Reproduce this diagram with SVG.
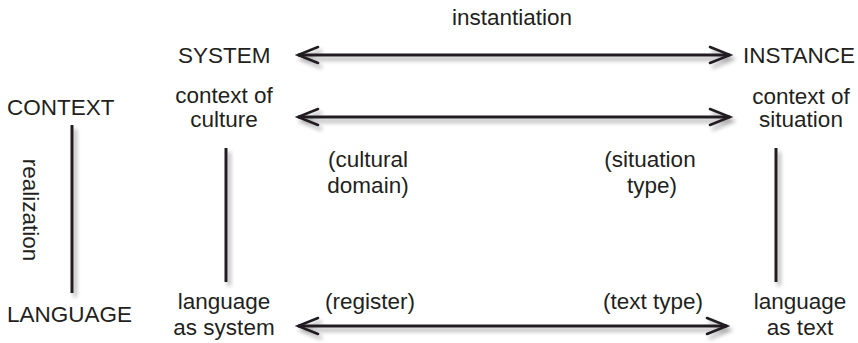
<svg xmlns="http://www.w3.org/2000/svg" width="858" height="343" viewBox="0 0 858 343">
<style>
text{font-family:"Liberation Sans",Arial,sans-serif;font-size:22.5px;fill:#231f20}
.m{text-anchor:middle}
.ln{stroke:#231f20;stroke-width:3;fill:none;filter:url(#sh)}
.ah{stroke:#231f20;stroke-width:2.5;fill:none;stroke-linecap:round;stroke-linejoin:miter}
</style>
<defs>
<filter id="sh" filterUnits="userSpaceOnUse" x="0" y="0" width="858" height="343">
<feGaussianBlur in="SourceAlpha" stdDeviation="2"/>
<feOffset dx="3" dy="4" result="b"/>
<feComponentTransfer><feFuncA type="linear" slope="0.35"/></feComponentTransfer>
<feMerge><feMergeNode/><feMergeNode in="SourceGraphic"/></feMerge>
</filter>
</defs>
<g id="connectors">
<g class="ln"><line x1="298" y1="55" x2="730" y2="55"/><path class="ah" d="M318 47 L298 55 L318 63 M710 47 L730 55 L710 63"/></g>
<g class="ln"><line x1="298" y1="117" x2="730" y2="117"/><path class="ah" d="M318 109 L298 117 L318 125 M710 109 L730 117 L710 125"/></g>
<g class="ln"><line x1="298" y1="326" x2="727" y2="326"/><path class="ah" d="M318 318 L298 326 L318 334 M707 318 L727 326 L707 334"/></g>
<line class="ln" x1="72" y1="125" x2="72" y2="293"/>
<line class="ln" x1="226" y1="148" x2="226" y2="282"/>
<line class="ln" x1="776" y1="148" x2="776" y2="282"/>
</g>
<g id="instantiation"><text class="m" x="512" y="25">instantiation</text></g>
<g id="system"><text x="178" y="63">SYSTEM</text></g>
<g id="instance"><text x="743" y="63">INSTANCE</text></g>
<g id="context"><text x="7" y="115">CONTEXT</text></g>
<g id="language"><text x="7" y="322">LANGUAGE</text></g>
<g id="realization"><text class="m" transform="translate(23,210) rotate(90)">realization</text></g>
<g id="context-of-culture"><text class="m" x="224" y="103">context of</text><text class="m" x="224" y="127">culture</text></g>
<g id="context-of-situation"><text class="m" x="801" y="104">context of</text><text class="m" x="801" y="127">situation</text></g>
<g id="cultural-domain"><text class="m" x="368" y="167">(cultural</text><text class="m" x="368" y="193">domain)</text></g>
<g id="situation-type"><text class="m" x="650" y="167">(situation</text><text class="m" x="652" y="193">type)</text></g>
<g id="language-as-system"><text class="m" x="224" y="309">language</text><text class="m" x="224" y="335">as system</text></g>
<g id="language-as-text"><text class="m" x="800" y="309">language</text><text class="m" x="800" y="335">as text</text></g>
<g id="register"><text x="325" y="309">(register)</text></g>
<g id="text-type"><text x="603" y="309">(text type)</text></g>
</svg>
